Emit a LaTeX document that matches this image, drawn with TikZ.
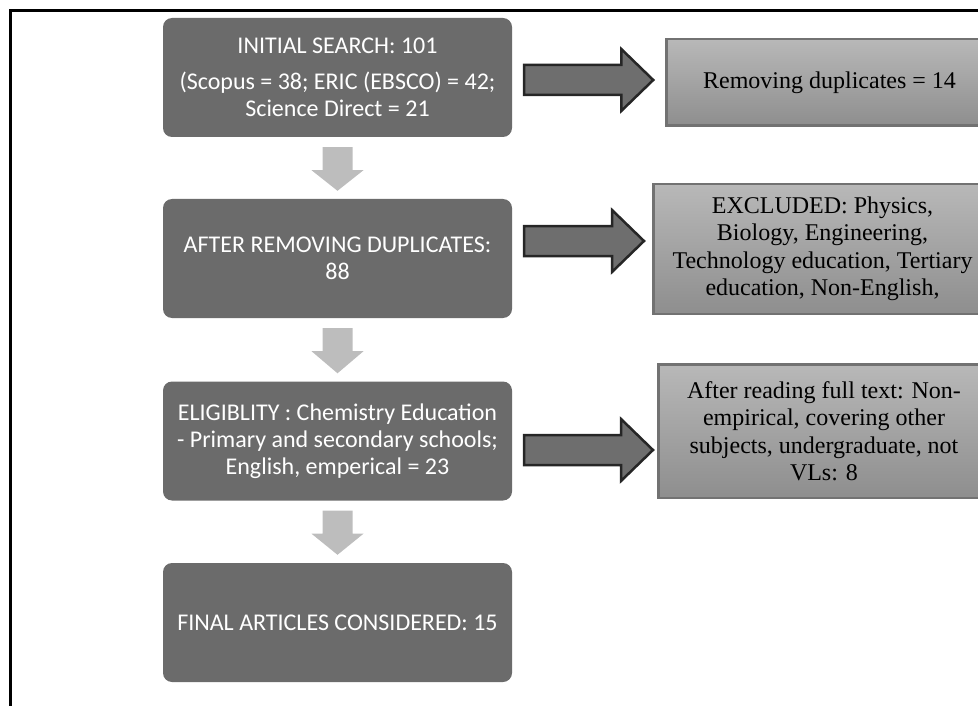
\documentclass[tikz,border=0pt]{standalone}
\usepackage{fontspec}
\newfontfamily\calibrifont{Carlito}
\newfontfamily\timesfont{Liberation Serif}
\usetikzlibrary{calc}

\definecolor{boxdark}{HTML}{6B6B6B}
\definecolor{downgray}{HTML}{BDBDBD}
\definecolor{sidegray}{HTML}{6E6E6E}
\definecolor{sideline}{HTML}{262626}
\definecolor{notetop}{HTML}{B8B8B8}
\definecolor{notebot}{HTML}{8E8E8E}
\definecolor{noteline}{HTML}{727272}

\tikzset{
  stagebox/.style={fill=boxdark, rounded corners=9pt, minimum width=349pt, minimum height=119pt,
    inner sep=0pt, align=center, text=white, font=\calibrifont\fontsize{24}{27}\selectfont},
  notebox/.style={top color=notetop, bottom color=notebot, draw=noteline, line width=2.5pt,
    inner sep=0pt, align=center, font=\timesfont\fontsize{24}{27.5}\selectfont},
  downarrow/.style={fill=downgray},
  sidearrow/.style={fill=sidegray, draw=sideline, line width=2.5pt, line join=miter},
}

% fat grey arrow from one stage down to the next
\newcommand{\downstep}[2]{%
  \fill[downarrow] ($(#1.south)+(-15,10)$) -- ($(#1.south)+(15,10)$) -- ($(#1.south)+(15,33)$)
    -- ($(#1.south)+(26,33)$) -- ($(#2.north)+(0,-8)$) -- ($(#1.south)+(-26,33)$)
    -- ($(#1.south)+(-15,33)$) -- cycle;}

% dark block arrow from a stage to its note (#3 = vertical shift, #4 = gap at the tip)
\newcommand{\sidestep}[4]{%
  \coordinate (s) at ($(#1.east)+(12,#3)$);
  \coordinate (t) at ($(s -| #2.west)+(-#4,0)$);
  \draw[sidearrow] ($(s)+(0,-15)$) -- ($(t)+(-32,-15)$) -- ($(t)+(-32,-31)$) -- (t)
    -- ($(t)+(-32,31)$) -- ($(t)+(-32,15)$) -- ($(s)+(0,15)$) -- cycle;}

\begin{document}
\begin{tikzpicture}[x=1pt, y=-1pt]
  \useasboundingbox (0,0) rectangle (978,706);

  % ==================== 1. frame ====================
  \draw[line width=3pt] (995,11) -- (10,11) -- (10,720);

  % ==================== 2. stages (left column) ====================
  \node[stagebox] (search) at (337.5,77.5) {INITIAL SEARCH: 101\\[9pt](Scopus = 38; ERIC (EBSCO) = 42;\\Science Direct = 21};
  \node[stagebox] (dedup) at (337.5,258.5) {AFTER REMOVING DUPLICATES:\\88};
  \node[stagebox] (elig) at (337.5,441) {ELIGIBLITY : Chemistry Education\\- Primary and secondary schools;\\English, emperical = 23};
  \node[stagebox] (final) at (337.5,622.5) {FINAL ARTICLES CONSIDERED: 15};

  % ==================== 3. notes (right column) ====================
  \node[notebox, minimum width=326pt, minimum height=86.5pt] (rdup) at (829.5,82.5) {Removing duplicates = 14};
  \node[notebox, minimum width=338.5pt, minimum height=129.5pt] (rexcl) at (822.5,249) {EXCLUDED: Physics,\\Biology, Engineering,\\Technology education, Tertiary\\education, Non-English,};
  \node[notebox, minimum width=331.5pt, minimum height=133.5pt] (rfull) at (824,431) {After reading full text: Non-\\empirical, covering other\\subjects, undergraduate, not\\VLs: 8};

  % ==================== 4. arrows ====================
  \downstep{search}{dedup}
  \downstep{dedup}{elig}
  \downstep{elig}{final}

  \sidestep{search}{rdup}{2.5}{12}
  \sidestep{dedup}{rexcl}{-17.5}{8}
  \sidestep{elig}{rfull}{9}{4}

\end{tikzpicture}
\end{document}
